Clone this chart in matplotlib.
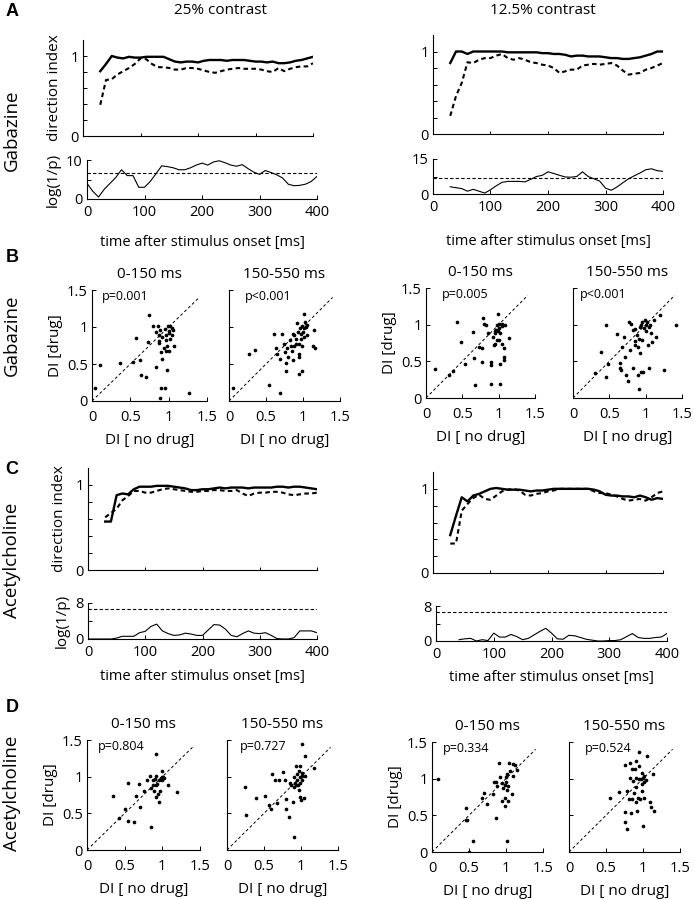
import numpy as np
import matplotlib
matplotlib.use("Agg")
import matplotlib.pyplot as plt

plt.rcParams["font.family"] = ["Open Sans", "DejaVu Sans"]

# ------------------------------------------------------------------
# Data
# ------------------------------------------------------------------
t_di = np.arange(30, 401, 10)          # direction index time base (ms)
t_log0 = np.arange(0, 401, 10)
t_log30 = np.arange(30, 401, 10)
t_log40 = np.arange(40, 401, 10)

gab25_nodrug = [0.81, 0.90, 1.00, 0.98, 0.97, 0.99, 0.98, 0.98, 0.99, 0.99,
                0.99, 0.99, 0.96, 0.93, 0.92, 0.93, 0.93, 0.92, 0.94, 0.95,
                0.95, 0.95, 0.94, 0.95, 0.95, 0.95, 0.94, 0.93, 0.93, 0.92,
                0.93, 0.91, 0.91, 0.92, 0.94, 0.95, 0.97, 0.99]
gab25_drug = [0.39, 0.70, 0.71, 0.77, 0.81, 0.85, 0.90, 0.97, 0.96, 0.90,
              0.86, 0.86, 0.85, 0.83, 0.83, 0.85, 0.85, 0.84, 0.82, 0.80,
              0.79, 0.81, 0.83, 0.84, 0.85, 0.84, 0.84, 0.84, 0.83, 0.81,
              0.80, 0.85, 0.81, 0.84, 0.86, 0.87, 0.87, 0.91]
gab25_logp = [4.0, 2.0, 0.5, 2.5, 4.0, 5.5, 7.5, 6.0, 6.0, 3.0,
              3.0, 4.5, 6.5, 8.5, 8.3, 8.0, 7.5, 7.5, 8.0, 8.7,
              9.2, 8.7, 9.5, 9.8, 9.3, 8.7, 8.4, 8.8, 7.8, 6.9,
              6.3, 7.3, 6.8, 6.2, 5.4, 3.8, 3.4, 3.5, 3.8, 4.5, 5.8]

gab12_nodrug = [0.86, 1.00, 1.00, 0.97, 1.00, 1.00, 1.00, 1.00, 1.00, 1.00,
                0.99, 0.99, 0.99, 0.99, 0.99, 0.99, 0.98, 0.98, 0.97, 0.97,
                0.96, 0.94, 0.95, 0.95, 0.94, 0.94, 0.94, 0.93, 0.92, 0.92,
                0.91, 0.91, 0.92, 0.93, 0.95, 0.97, 1.00, 1.00]
gab12_drug = [0.22, 0.46, 0.62, 0.87, 0.86, 0.90, 0.92, 0.92, 0.95, 0.97,
              0.92, 0.90, 0.92, 0.90, 0.87, 0.86, 0.84, 0.83, 0.80, 0.74,
              0.76, 0.78, 0.78, 0.83, 0.84, 0.85, 0.84, 0.85, 0.86, 0.83,
              0.77, 0.72, 0.73, 0.74, 0.78, 0.80, 0.83, 0.86]
gab12_logp = [3.1, 2.7, 2.3, 1.2, 2.0, 1.2, 0.4, 1.8, 3.5, 5.0,
              5.4, 5.4, 5.4, 5.2, 6.3, 7.5, 8.0, 9.5, 8.8, 8.0,
              7.3, 7.2, 7.5, 9.5, 7.5, 6.5, 5.5, 2.5, 1.6, 3.0,
              4.8, 6.5, 7.8, 9.0, 10.4, 10.8, 10.0, 9.7]

ach25_nodrug = [0.57, 0.57, 0.88, 0.90, 0.89, 0.95, 0.98, 0.98, 0.98, 0.99,
                0.99, 0.99, 0.98, 0.97, 0.96, 0.94, 0.94, 0.95, 0.95, 0.96,
                0.97, 0.96, 0.97, 0.97, 0.97, 0.96, 0.97, 0.97, 0.97, 0.97,
                0.98, 0.98, 0.97, 0.98, 0.98, 0.97, 0.96, 0.95]
ach25_drug = [0.62, 0.67, 0.72, 0.82, 0.87, 0.93, 0.93, 0.91, 0.91, 0.93,
              0.95, 0.96, 0.95, 0.94, 0.93, 0.92, 0.92, 0.93, 0.93, 0.94,
              0.94, 0.93, 0.93, 0.94, 0.90, 0.87, 0.90, 0.91, 0.91, 0.92,
              0.92, 0.91, 0.89, 0.88, 0.89, 0.90, 0.90, 0.91]
ach25_logp = [0.0, 0.0, 0.0, 0.0, 0.0, 0.2, 0.6, 0.6, 0.6, 1.4,
              1.7, 2.8, 3.3, 1.8, 1.2, 0.8, 0.9, 1.3, 1.1, 0.8,
              0.8, 2.0, 3.2, 3.1, 2.2, 0.8, 0.5, 1.2, 1.8, 1.3,
              1.2, 1.4, 0.8, 0.1, 0.0, 0.0, 0.3, 1.8, 1.8, 1.8, 1.4]

ach12_nodrug = [0.45, 0.68, 0.90, 0.85, 0.92, 0.94, 0.97, 1.00, 1.01, 1.00,
                0.99, 0.99, 0.99, 0.98, 0.97, 0.98, 0.98, 0.99, 1.00, 1.00,
                1.00, 1.00, 1.00, 1.00, 1.00, 0.99, 0.97, 0.93, 0.92, 0.92,
                0.91, 0.91, 0.90, 0.92, 0.90, 0.87, 0.89, 0.88]
ach12_drug = [0.35, 0.35, 0.74, 0.82, 0.89, 0.93, 0.88, 0.87, 0.92, 0.97,
              0.99, 1.00, 0.98, 0.93, 0.92, 0.94, 0.95, 0.97, 0.98, 1.00,
              1.00, 1.00, 1.00, 1.00, 1.00, 0.97, 0.95, 0.95, 0.93, 0.91,
              0.88, 0.86, 0.87, 0.88, 0.86, 0.90, 0.95, 0.97]
ach12_logp = [0.3, 0.5, 0.6, 0.0, 0.3, 0.1, 1.8, 0.9, 0.9, 1.5,
              1.0, 0.3, 0.6, 1.4, 2.2, 2.9, 1.8, 0.5, 0.4, 1.3,
              1.2, 0.8, 0.4, 0.2, 0.0, 0.0, 0.1, 0.1, 0.3, 1.0,
              1.7, 0.8, 0.6, 0.6, 0.8, 0.9, 1.7]

logp_thresh = 6.7

# scatter: DI without drug (x) vs with drug (y)
gab25_early_x = [0.04, 0.10, 0.36, 0.58, 0.53, 0.62, 0.64, 0.70, 0.73, 0.74, 0.79, 0.83,
                 0.86, 0.87, 0.88, 0.90, 0.91, 0.84, 0.95, 0.96, 0.96, 0.98, 0.99, 1.00,
                 1.00, 1.02, 1.04, 1.05, 1.07, 0.94, 0.96, 1.00, 0.91, 0.89, 0.98, 0.95,
                 0.90, 0.89, 1.27, 1.02, 1.04, 0.87]
gab25_early_y = [0.17, 0.49, 0.52, 0.85, 0.53, 0.55, 0.35, 0.32, 0.80, 1.16, 1.02, 0.93,
                 1.01, 0.89, 0.78, 0.66, 0.57, 0.46, 0.97, 0.89, 0.82, 0.75, 1.02, 0.95,
                 0.92, 1.02, 0.89, 0.96, 0.75, 0.71, 0.68, 0.68, 0.87, 0.96, 0.42, 0.18,
                 0.18, 0.04, 0.11, 0.84, 0.99, 0.81]
gab25_late_x = [0.05, 0.27, 0.35, 0.54, 0.69, 0.61, 0.64, 0.65, 0.69, 0.72, 0.74, 0.76,
                0.77, 0.77, 0.80, 0.83, 0.85, 0.87, 0.88, 0.91, 0.92, 0.93, 0.94, 0.94,
                0.96, 0.97, 0.98, 0.99, 1.00, 1.01, 1.02, 1.03, 1.04, 1.05, 0.88, 0.84,
                0.95, 0.99, 1.15, 1.14, 1.16, 1.06, 0.97, 0.91, 1.01, 0.86, 0.79, 0.95]
gab25_late_y = [0.18, 0.63, 0.69, 0.21, 0.11, 0.91, 0.72, 0.63, 0.57, 0.91, 0.77, 0.66,
                0.51, 0.40, 0.59, 0.82, 0.68, 0.55, 0.89, 0.77, 1.05, 0.93, 0.64, 0.36,
                0.98, 0.84, 1.02, 0.41, 0.93, 0.98, 1.17, 1.07, 1.00, 0.89, 0.75, 0.75,
                0.77, 0.75, 0.96, 0.74, 0.71, 1.03, 0.91, 0.84, 0.86, 0.91, 0.72, 0.59]

gab12_early_x = [0.12, 0.32, 0.37, 0.42, 0.48, 0.54, 0.64, 0.66, 0.68, 0.73, 0.77, 0.77,
                 0.79, 0.80, 0.82, 0.86, 0.89, 0.90, 0.89, 0.92, 0.95, 0.95, 0.96, 0.98,
                 0.99, 1.00, 1.01, 1.01, 1.02, 1.02, 1.04, 1.05, 1.05, 1.07, 1.08, 1.09,
                 1.14, 0.99, 0.95, 1.02, 0.93, 0.98, 1.08]
gab12_early_y = [0.40, 0.32, 0.37, 1.03, 0.77, 0.46, 0.90, 0.55, 0.18, 0.70, 0.68, 0.49,
                 1.09, 1.01, 0.99, 0.88, 0.49, 0.45, 0.19, 0.83, 0.91, 0.74, 0.93, 0.99,
                 1.14, 1.01, 0.95, 0.79, 0.19, 0.47, 0.98, 1.01, 0.74, 0.68, 0.56, 1.00,
                 0.82, 0.92, 0.88, 0.89, 0.72, 0.79, 0.52]
gab12_late_x = [0.30, 0.39, 0.45, 0.45, 0.48, 0.60, 0.64, 0.65, 0.66, 0.67, 0.70, 0.71,
                0.73, 0.75, 0.77, 0.79, 0.80, 0.82, 0.83, 0.86, 0.86, 0.88, 0.89, 0.90,
                0.91, 0.92, 0.92, 0.93, 0.94, 0.95, 0.97, 0.98, 0.99, 1.00, 1.01, 1.02,
                1.03, 1.05, 1.06, 1.07, 1.09, 1.11, 1.14, 1.20, 1.25, 1.42, 0.95, 1.05,
                0.91, 0.86]
gab12_late_y = [0.34, 0.63, 1.00, 0.29, 0.47, 0.87, 0.48, 0.41, 0.38, 0.70, 0.83, 0.56,
                0.32, 0.23, 1.04, 0.65, 1.01, 0.93, 0.41, 0.94, 0.78, 0.86, 0.69, 0.32,
                0.12, 0.97, 0.61, 0.36, 0.99, 0.79, 0.36, 0.95, 1.07, 0.99, 0.92, 1.04,
                0.72, 0.41, 0.99, 0.88, 0.77, 1.06, 0.83, 1.13, 0.38, 1.00, 1.04, 0.97,
                0.81, 0.72]

ach25_early_x = [0.34, 0.42, 0.51, 0.54, 0.54, 0.62, 0.65, 0.69, 0.70, 0.75, 0.79, 0.83,
                 0.85, 0.87, 0.88, 0.89, 0.90, 0.91, 0.91, 0.92, 0.93, 0.94, 0.96, 0.97,
                 0.98, 0.99, 1.00, 1.01, 1.02, 1.00, 1.08, 1.20, 0.96, 0.91, 0.85]
ach25_early_y = [0.74, 0.43, 0.56, 0.92, 0.40, 0.38, 0.74, 0.90, 0.59, 0.81, 0.95, 1.01,
                 0.32, 0.95, 0.88, 0.81, 0.97, 1.31, 0.72, 1.01, 0.90, 0.76, 0.65, 0.81,
                 0.98, 0.99, 1.08, 1.00, 0.98, 0.95, 0.89, 0.79, 0.95, 0.88, 0.84]
ach25_late_x = [0.24, 0.26, 0.39, 0.52, 0.57, 0.60, 0.61, 0.65, 0.68, 0.70, 0.75, 0.78,
                0.80, 0.80, 0.84, 0.85, 0.87, 0.89, 0.90, 0.90, 0.91, 0.92, 0.93, 0.95,
                0.95, 0.96, 0.97, 0.98, 0.99, 1.00, 1.01, 1.01, 1.02, 1.04, 1.05, 1.18,
                1.06, 0.97, 0.93, 0.99, 1.02, 0.99]
ach25_late_y = [0.86, 0.48, 0.71, 0.74, 0.61, 0.56, 1.04, 0.95, 0.64, 0.95, 1.06, 0.95,
                0.70, 0.56, 0.45, 0.92, 0.88, 0.65, 0.18, 0.86, 1.00, 0.92, 1.14, 1.04,
                0.95, 0.88, 1.08, 0.99, 0.72, 0.68, 1.44, 1.01, 1.05, 0.71, 1.28, 1.12,
                1.01, 0.82, 0.89, 0.92, 0.95, 1.14]

ach12_early_x = [0.08, 0.46, 0.46, 0.47, 0.50, 0.55, 0.67, 0.70, 0.74, 0.83, 0.84, 0.87,
                 0.87, 0.88, 0.90, 0.92, 0.94, 0.95, 0.96, 0.98, 0.99, 0.99, 1.00, 1.01,
                 1.01, 1.02, 1.03, 1.04, 1.05, 1.08, 1.09, 1.10, 1.12, 1.15, 1.03, 1.00]
ach12_early_y = [0.99, 0.60, 0.43, 0.43, 0.00, 0.15, 0.74, 0.81, 0.66, 0.79, 0.96, 0.46,
                 0.96, 0.90, 1.22, 1.02, 0.70, 0.94, 0.87, 0.73, 0.63, 0.91, 1.02, 0.15,
                 0.85, 1.06, 0.70, 1.21, 1.10, 0.79, 1.03, 1.20, 1.18, 1.12, 0.90, 0.96]
ach12_late_x = [0.55, 0.68, 0.75, 0.75, 0.76, 0.78, 0.79, 0.81, 0.82, 0.83, 0.84, 0.85,
                0.85, 0.87, 0.88, 0.89, 0.90, 0.90, 0.91, 0.92, 0.93, 0.95, 0.95, 0.96,
                0.97, 0.98, 0.99, 1.00, 1.00, 1.01, 1.02, 1.04, 1.06, 1.10, 1.11, 1.13,
                1.15, 1.01, 0.95, 0.99, 0.91]
ach12_late_y = [0.73, 0.82, 0.55, 0.41, 1.18, 0.32, 0.83, 0.72, 1.22, 1.01, 0.53, 0.72,
                1.13, 0.97, 0.80, 1.13, 1.24, 0.68, 1.01, 0.56, 0.74, 1.17, 1.36, 0.72,
                0.99, 0.83, 1.08, 1.01, 0.35, 0.95, 1.04, 0.98, 1.31, 0.68, 0.62, 1.06,
                0.56, 0.73, 1.00, 0.93, 0.88]

p_labels = ["p=0.001", "p<0.001", "p=0.005", "p<0.001",
            "p=0.804", "p=0.727", "p=0.334", "p=0.524"]

# ------------------------------------------------------------------
# Layout helpers (pixel boxes on a 694 x 900 canvas)
# ------------------------------------------------------------------
W, H = 694, 900
fig = plt.figure(figsize=(W / 100, H / 100), dpi=100)


def box(l, t, r, b):
    return [l / W, 1 - b / H, (r - l) / W, (b - t) / H]


def clean(ax, pad=3):
    ax.spines["top"].set_visible(False)
    ax.spines["right"].set_visible(False)
    for s in ("left", "bottom"):
        ax.spines[s].set_linewidth(0.8)
    ax.tick_params(direction="in", length=3, width=0.7, labelsize=10.5, pad=pad)


def di_axes(rect, nodrug, drug, ylabel):
    ax = fig.add_axes(box(*rect))
    ax.plot(t_di, nodrug, color="k", lw=1.7)
    ax.plot(t_di, drug, color="k", lw=1.5, ls=(0, (2.2, 1.6)))
    ax.set_xlim(0, 400)
    ax.set_ylim(0, 1.2)
    ax.set_xticks([0, 100, 200, 300, 400])
    ax.set_xticklabels([])
    ax.set_yticks([0, 0.2, 0.4, 0.6, 0.8, 1.0])
    ax.set_yticklabels(["0", "", "", "", "", "1"])
    clean(ax)
    ax.tick_params(axis="x", length=2.5)
    if ylabel:
        ax.set_ylabel("direction index", fontsize=11, labelpad=6)
    return ax


def logp_axes(rect, t, logp, top, ylabel, lpad):
    ax = fig.add_axes(box(*rect))
    ax.plot(t, logp, color="k", lw=0.8)
    ax.axhline(logp_thresh, color="k", lw=0.8, ls=(0, (3, 2)))
    ax.set_xlim(0, 400)
    ax.set_ylim(0, top)
    ax.set_xticks([0, 100, 200, 300, 400])
    ax.set_yticks([0, top / 2, top])
    ax.set_yticklabels(["0", "", str(top)])
    clean(ax)
    ax.tick_params(axis="x", pad=4)
    if ylabel:
        ax.set_ylabel("log(1/p)", fontsize=11, labelpad=4)
    ax.set_xlabel("time after stimulus onset [ms]", fontsize=10.5, labelpad=lpad)
    return ax


def scatter_axes(rect, x, y, title, ptxt, px, ylabel):
    ax = fig.add_axes(box(*rect))
    ax.plot([0, 1.4], [0, 1.4], color="k", lw=0.7, ls=(0, (3, 2.5)))
    ax.scatter(x, y, s=7, color="k", linewidths=0)
    ax.set_xlim(0, 1.5)
    ax.set_ylim(0, 1.5)
    ax.set_xticks([0, 0.5, 1, 1.5])
    ax.set_xticklabels(["0", "0.5", "1", "1.5"])
    ax.set_yticks([0, 0.5, 1, 1.5])
    if ylabel:
        ax.set_yticklabels(["0", "0.5", "1", "1.5"])
        ax.set_ylabel("DI [drug]", fontsize=11, labelpad=3)
    else:
        ax.set_yticklabels([])
    clean(ax)
    ax.tick_params(axis="x", pad=6.5)
    ax.set_title(title, fontsize=11, pad=9)
    ax.text(px, 0.94, ptxt, transform=ax.transAxes, fontsize=9, va="center")
    ax.set_xlabel("DI [ no drug]", fontsize=11, labelpad=6)
    return ax


# ------------------------------------------------------------------
# A : Gabazine time course
# ------------------------------------------------------------------
di_axes((83, 40, 313, 136), gab25_nodrug, gab25_drug, True)
logp_axes((87, 160, 317, 199), t_log0, gab25_logp, 10, True, 11)
di_axes((433, 35, 663, 134), gab12_nodrug, gab12_drug, False)
logp_axes((433, 159, 663, 194), t_log30, gab12_logp, 15, False, 14)

# B : Gabazine scatter
scatter_axes((92, 290, 207, 401), gab25_early_x, gab25_early_y, "0-150 ms", p_labels[0], 0.09, True)
scatter_axes((229, 290, 340, 401), gab25_late_x, gab25_late_y, "150-550 ms", p_labels[1], 0.14, False)
scatter_axes((426, 288, 535, 398), gab12_early_x, gab12_early_y, "0-150 ms", p_labels[2], 0.15, True)
scatter_axes((573, 288, 682, 398), gab12_late_x, gab12_late_y, "150-550 ms", p_labels[3], 0.06, False)

# C : Acetylcholine time course
di_axes((88, 468, 317, 570), ach25_nodrug, ach25_drug, True)
logp_axes((88, 603, 317, 639), t_log0, ach25_logp, 8, True, 7)
di_axes((433, 472, 663, 573), ach12_nodrug, ach12_drug, False)
logp_axes((436, 606, 667, 641), t_log40, ach12_logp, 8, False, 6)

# D : Acetylcholine scatter
scatter_axes((87, 740, 200, 850), ach25_early_x, ach25_early_y, "0-150 ms", p_labels[4], 0.10, True)
scatter_axes((227, 740, 338, 850), ach25_late_x, ach25_late_y, "150-550 ms", p_labels[5], 0.12, False)
scatter_axes((432, 742, 543, 852), ach12_early_x, ach12_early_y, "0-150 ms", p_labels[6], 0.10, True)
scatter_axes((569, 742, 680, 852), ach12_late_x, ach12_late_y, "150-550 ms", p_labels[7], 0.14, False)

# ------------------------------------------------------------------
# Figure-level text
# ------------------------------------------------------------------
def ftext(x, y, s, **kw):
    fig.text(x / W, 1 - y / H, s, **kw)


ftext(220, 10, "25% contrast", fontsize=11, ha="center", va="center")
ftext(543, 11, "12.5% contrast", fontsize=11, ha="center", va="center")
for letter, y in (("A", 12), ("B", 258), ("C", 469), ("D", 707)):
    ftext(12, y, letter, fontsize=13, fontweight="bold", ha="center", va="center",
          family=["Liberation Sans", "DejaVu Sans"])
for name, y in (("Gabazine", 130), ("Gabazine", 335), ("Acetylcholine", 560), ("Acetylcholine", 793)):
    ftext(12, y, name, fontsize=13.5, rotation=90, ha="center", va="center")

fig.savefig("out.png", dpi=100)
